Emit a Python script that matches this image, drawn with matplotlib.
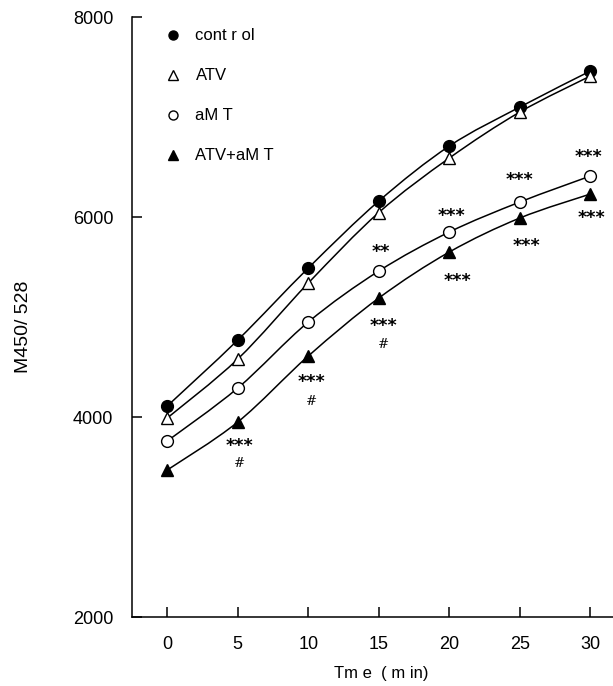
import matplotlib
matplotlib.use('Agg')
import matplotlib.pyplot as plt
from matplotlib.path import Path
from matplotlib.patches import PathPatch
import numpy as np

plt.rcParams['font.family'] = ['Liberation Sans', 'DejaVu Sans']

time = [0, 5, 10, 15, 20, 25, 30]
control = [4110, 4770, 5490, 6160, 6710, 7100, 7460]
atv = [3990, 4580, 5340, 6045, 6590, 7050, 7410]
amt = [3760, 4290, 4950, 5460, 5850, 6150, 6410]
atv_amt = [3470, 3950, 4610, 5190, 5650, 5990, 6230]

labels = ['cont r ol', 'ATV', 'aM T', 'ATV+aM T']
markers = ['o', '^', 'o', '^']
faces = ['black', 'white', 'white', 'black']

# significance marks (time, value, text)
star_x = [15.15, 20.15, 24.95, 29.85, 5.1, 10.2, 15.3, 20.6, 25.5, 30.1]
star_y = [5680, 6040, 6400, 6630, 3740, 4380, 4940, 5390, 5740, 6020]
star_txt = ['**', '***', '***', '***', '***', '***', '***', '***', '***', '***']
hash_x = [5.1, 10.2, 15.3]
hash_y = [3540, 4160, 4730]


def smooth_path(x, y):
    # bezier curve through the points
    x = np.asarray(x, float)
    y = np.asarray(y, float)
    verts = [(x[0], y[0])]
    codes = [Path.MOVETO]
    n = len(x)
    for i in range(n - 1):
        i0 = max(i - 1, 0)
        i3 = min(i + 2, n - 1)
        c1 = (x[i] + (x[i + 1] - x[i0]) / 6, y[i] + (y[i + 1] - y[i0]) / 6)
        c2 = (x[i + 1] - (x[i3] - x[i]) / 6, y[i + 1] - (y[i3] - y[i]) / 6)
        verts += [c1, c2, (x[i + 1], y[i + 1])]
        codes += [Path.CURVE4] * 3
    return Path(verts, codes)


fig = plt.figure(figsize=(6.13, 6.86), dpi=100)
ax = fig.add_axes([132 / 613, 69 / 686, 481 / 613, 600 / 686])

series = [control, atv, amt, atv_amt]
for vals, m, fc in zip(series, markers, faces):
    ax.add_patch(PathPatch(smooth_path(time, vals), fill=False, lw=1.1, color='black', zorder=2))
    ax.plot(time, vals, ls='none', marker=m, ms=8.5, mfc=fc, mec='black', mew=1.0, zorder=3)

for x, y, s in zip(star_x, star_y, star_txt):
    ax.text(x, y - 30, s, ha='center', va='center', fontsize=12.5, fontweight='bold', family='DejaVu Sans')
for x, y in zip(hash_x, hash_y):
    ax.text(x, y, '#', ha='center', va='center', fontsize=9.5, family='DejaVu Serif')

# legend: markers + text
leg_y = [7820, 7420, 7020, 6620]
for yy, lab, m, fc in zip(leg_y, labels, markers, faces):
    ax.plot([0.4], [yy], ls='none', marker=m, ms=6.5, mfc=fc, mec='black', mew=1.0)
    ax.text(2.0, yy, lab, va='center', ha='left', fontsize=12)

ax.set_xlim(-2.5, 31.6)
ax.set_ylim(2000, 8000)
ax.set_xticks(time)
ax.set_yticks([2000, 4000, 6000, 8000])
ax.tick_params(direction='in', length=7, width=1.1, labelsize=13)
ax.tick_params(axis='y', pad=13.5)
ax.tick_params(axis='x', pad=14)
for s in ['top', 'right']:
    ax.spines[s].set_visible(False)
for s in ['left', 'bottom']:
    ax.spines[s].set_linewidth(1.1)

ax.set_xlabel('Tm e  ( m in)', fontsize=12)
ax.xaxis.set_label_coords((381 - 132) / 481, -0.082)
ax.set_ylabel('M450/ 528', fontsize=14, family=['Liberation Sans Narrow', 'Liberation Sans'])
ax.yaxis.set_label_coords(-0.208, 0.483)

fig.savefig('out.png', dpi=100)
